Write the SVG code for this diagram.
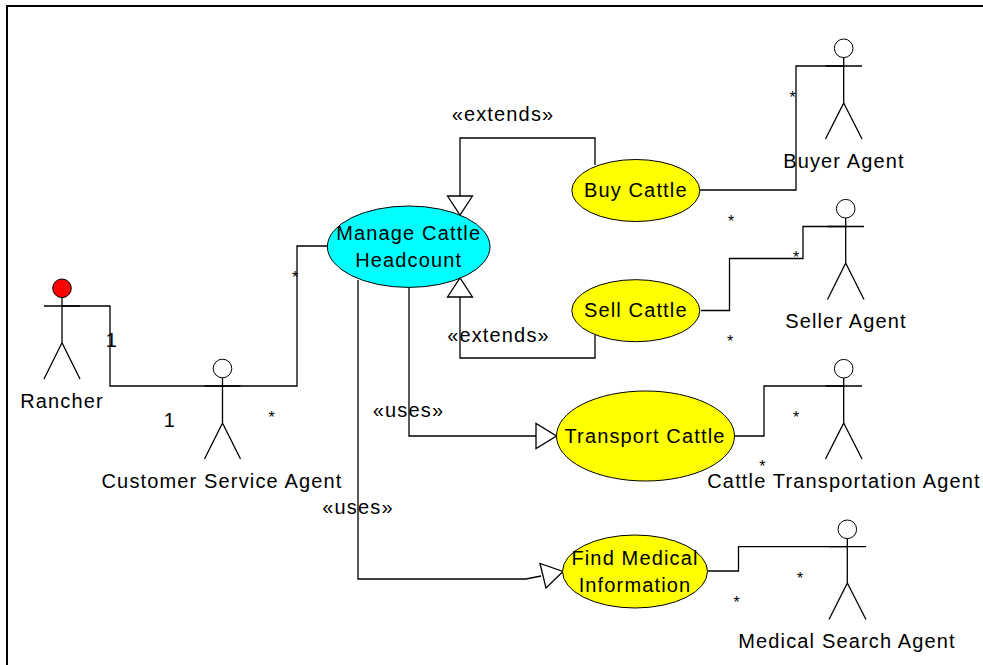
<svg xmlns="http://www.w3.org/2000/svg" width="983" height="665" viewBox="0 0 983 665">
<style>
text{font-family:"Liberation Sans",Arial,sans-serif;font-size:20px;letter-spacing:1.15px;fill:#000;text-anchor:middle}
.l{fill:none;stroke:#000;stroke-width:1.3}
.e{stroke:#000;stroke-width:1}
.y{fill:#ff0}
.a{fill:#fff;stroke:#000;stroke-width:1.3}
.s{font-size:16px;letter-spacing:0}
</style>
<rect width="983" height="665" fill="#fff"/>
<path d="M7 665V6H983" fill="none" stroke="#000" stroke-width="2"/>
<g id="connectors">
<path class="l" d="M62 306H110V386H297V246H328"/>
<path class="l" d="M700 190H796V66H843"/>
<path class="l" d="M701 310.500H729.500V258.500H803V226.500H845"/>
<path class="l" d="M734 436H764V386H843"/>
<path class="l" d="M708 571H738.500V546.700H847"/>
<path class="l" d="M595 165V138H460V196"/>
<path class="l" d="M595 335V358H460V297"/>
<path class="l" d="M409 287V436H536"/>
<path class="l" d="M358 280V579H526L541 576"/>
<polygon class="a" points="447.500,196 472.500,196 460,215"/>
<polygon class="a" points="447.500,297 472.500,297 460,278"/>
<polygon class="a" points="536,423.500 536,448.500 556.500,436"/>
<polygon class="a" points="540,563.500 546,588 563,571.500"/>
</g>
<g id="manage"><ellipse class="e" cx="408.700" cy="246.700" rx="81.300" ry="40.700" fill="#0ff"/><text x="408.700" y="240">Manage Cattle</text><text x="408.700" y="267">Headcount</text></g>
<g id="buy"><ellipse class="e y" cx="635.800" cy="190.500" rx="64" ry="31"/><text x="635.800" y="197">Buy Cattle</text></g>
<g id="sell"><ellipse class="e y" cx="635.800" cy="310.700" rx="64" ry="31"/><text x="635.800" y="317">Sell Cattle</text></g>
<g id="transport"><ellipse class="e y" cx="645.500" cy="436" rx="89" ry="45"/><text x="645" y="443">Transport Cattle</text></g>
<g id="find"><ellipse class="e y" cx="635" cy="571.500" rx="72.500" ry="36.500"/><text x="635" y="565">Find Medical</text><text x="635" y="592">Information</text></g>
<g id="rancher"><circle class="a" cx="62" cy="288.300" r="9.300" style="fill:#f00;stroke-width:1"/><path class="l" d="M44 306H80M62 297.600V342.700L44 379M62 342.700L80 379"/><text x="62" y="407.700">Rancher</text></g>
<g id="customer-service-agent"><circle class="a" cx="222.500" cy="368.500" r="9.300" style="stroke-width:1"/><path class="l" d="M204.500 386H240.500M222.500 377.800V423L204.500 459M222.500 423L240.500 459"/><text x="222" y="488">Customer Service Agent</text></g>
<g id="buyer-agent"><circle class="a" cx="843.700" cy="48.300" r="9.300" style="stroke-width:1"/><path class="l" d="M825.500 66H862M843.700 57.600V103L825.500 139M843.700 103L862 139"/><text x="844" y="168">Buyer Agent</text></g>
<g id="seller-agent"><circle class="a" cx="845.700" cy="208.700" r="9.300" style="stroke-width:1"/><path class="l" d="M827.500 226.500H864M845.700 218V263L827.500 299.500M845.700 263L864 299.500"/><text x="846" y="328">Seller Agent</text></g>
<g id="cattle-transportation-agent"><circle class="a" cx="843.700" cy="368.700" r="9.300" style="stroke-width:1"/><path class="l" d="M825.500 386H862M843.700 378V423L825.500 459M843.700 423L862 459"/><text x="844" y="487.700">Cattle Transportation Agent</text></g>
<g id="medical-search-agent"><circle class="a" cx="847.300" cy="529.300" r="9.300" style="stroke-width:1"/><path class="l" d="M829 546.700H866M847.300 538.600V583L829 619.500M847.300 583L866 619.500"/><text x="847" y="648">Medical Search Agent</text></g>
<g id="labels">
<text x="503" y="120.700">«extends»</text>
<text x="498.500" y="341.700">«extends»</text>
<text x="408.500" y="417">«uses»</text>
<text x="358" y="514">«uses»</text>
<text x="112" y="347">1</text>
<text x="170" y="427">1</text>
<text class="s" x="295" y="283">*</text>
<text class="s" x="271.700" y="423">*</text>
<text class="s" x="792.700" y="103.200">*</text>
<text class="s" x="731" y="227.200">*</text>
<text class="s" x="796" y="263.200">*</text>
<text class="s" x="730" y="347.200">*</text>
<text class="s" x="796" y="423.200">*</text>
<text class="s" x="762.300" y="472.200">*</text>
<text class="s" x="800" y="584">*</text>
<text class="s" x="736.700" y="608">*</text>
</g>
</svg>
